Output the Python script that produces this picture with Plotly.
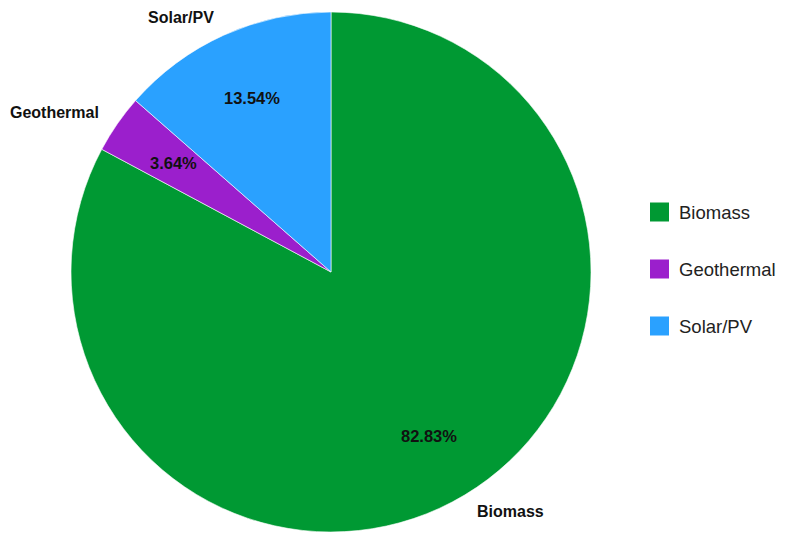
import math
import plotly.graph_objects as go

# Share of generation by source (percent)
labels = ["Biomass", "Geothermal", "Solar/PV"]
values = [82.83, 3.64, 13.54]
colors = ["#009933", "#9b1fcc", "#2aa1ff"]

W, H = 793, 533
CX, CY, R = 331, 272, 260  # pie centre and radius in pixels

fig = go.Figure(
    go.Pie(
        labels=labels,
        values=values,
        sort=False,
        direction="clockwise",
        rotation=0,
        marker=dict(colors=colors, line=dict(color="white", width=0.6)),
        textinfo="none",
        hoverinfo="label+percent",
        showlegend=False,
        domain=dict(x=[(CX - R) / W, (CX + R) / W], y=[1 - (CY + R) / H, 1 - (CY - R) / H]),
    )
)


def to_paper(px, py):
    return px / W, 1 - py / H


FONT = "Liberation Sans, Arial, sans-serif"
annotations = []
total = sum(values)
cum = 0.0
for lab, val in zip(labels, values):
    mid = (cum + val / 2) / total
    cum += val
    th = 2 * math.pi * mid
    s, c = math.sin(th), math.cos(th)
    # percentage inside the slice
    x, y = to_paper(CX + 0.735 * R * s, CY - 0.735 * R * c)
    annotations.append(dict(
        x=x, y=y, xref="paper", yref="paper", text=f"<b>{val:.2f}%</b>",
        showarrow=False, xanchor="center", yanchor="middle",
        font=dict(family=FONT, size=16.5, color="#111"),
    ))
    # category name just outside the rim
    x, y = to_paper(CX + 1.075 * R * s, CY - 1.075 * R * c)
    annotations.append(dict(
        x=x, y=y, xref="paper", yref="paper", text=f"<b>{lab}</b>",
        showarrow=False, xanchor="left" if s > 0 else "right", yanchor="middle",
        font=dict(family=FONT, size=16, color="#111"),
    ))

# legend: coloured squares with names
shapes = []
LX, LY0, STEP, SQ = 650, 212, 57, 19
for i, (lab, col) in enumerate(zip(labels, colors)):
    yc = LY0 + i * STEP
    x0, y0 = to_paper(LX, yc + SQ / 2)
    x1, y1 = to_paper(LX + SQ, yc - SQ / 2)
    shapes.append(dict(type="rect", xref="paper", yref="paper", x0=x0, y0=y0, x1=x1, y1=y1,
                       fillcolor=col, line=dict(width=0)))
    tx, ty = to_paper(LX + SQ + 8, yc)
    annotations.append(dict(
        x=tx, y=ty, xref="paper", yref="paper", text=lab, showarrow=False,
        xanchor="left", yanchor="middle",
        font=dict(family=FONT, size=18.5, color="#222"),
    ))

fig.update_layout(
    width=W, height=H,
    margin=dict(l=0, r=0, t=0, b=0),
    paper_bgcolor="white",
    plot_bgcolor="white",
    annotations=annotations,
    shapes=shapes,
)

fig.write_html("out.html")
